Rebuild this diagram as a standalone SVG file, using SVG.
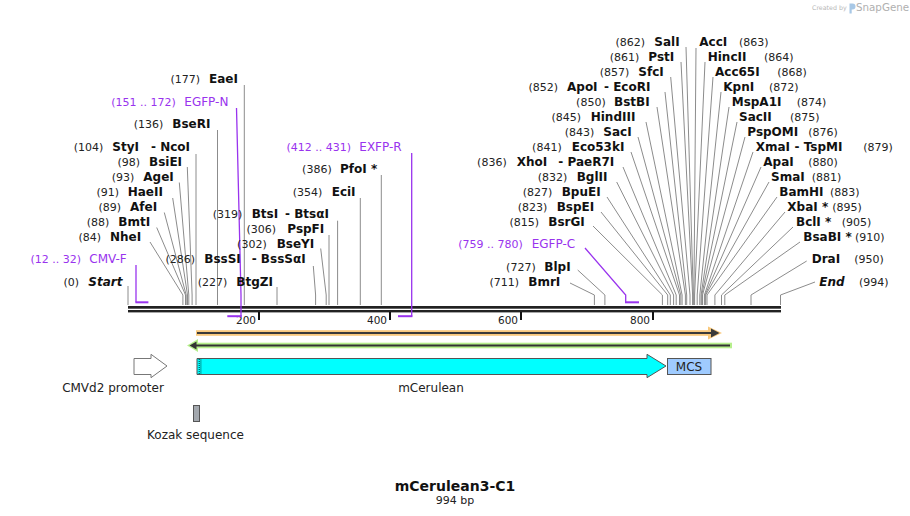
<svg xmlns="http://www.w3.org/2000/svg" width="910" height="516" viewBox="0 0 910 516">
<style>
text{font-family:"DejaVu Sans","Liberation Sans",sans-serif;}
.num{font-size:11px;fill:#222;}
.nm{font-size:12px;font-weight:bold;fill:#111;}
.it{font-style:italic;}
.pn{font-size:11px;fill:#9933ee;}
.pl{font-size:12px;fill:#9933ee;}
.tick{font-size:10.5px;fill:#222;}
.flab{font-size:12px;fill:#222;}
.c line,.c polyline{fill:none;stroke:#8c8c8c;stroke-width:1;}
.pr{fill:none;stroke:#9933ee;stroke-width:1.3;}
.prb{fill:#9933ee;}
</style>
<rect width="910" height="516" fill="#fff"/>

<g id="watermark">
<text x="812" y="10" style="font-size:6.3px;fill:#b8b8b8">Created by</text>
<path d="M849.5,3.5 h3 a3,3 0 0 1 0,6 h-0.8 v4 h-2.2 z" fill="#a8c8e6"/>
<text x="856" y="11" style="font-size:10.3px;fill:#b0b0b0">SnapGene</text>
</g>

<g id="backbone">
<rect x="128" y="306" width="653" height="2.7" fill="#222"/>
<rect x="128" y="310" width="653" height="2.4" fill="#222"/>
<rect x="258" y="312" width="2" height="8" fill="#111"/>
<rect x="389" y="312" width="2" height="8" fill="#111"/>
<rect x="520" y="312" width="2" height="8" fill="#111"/>
<rect x="652" y="312" width="2" height="8" fill="#111"/>
<text class="tick" x="256" y="323.5" text-anchor="end">200</text>
<text class="tick" x="387" y="323.5" text-anchor="end">400</text>
<text class="tick" x="518" y="323.5" text-anchor="end">600</text>
<text class="tick" x="650" y="323.5" text-anchor="end">800</text>
</g>

<g id="connectors" class="c">
<line x1="128" y1="286" x2="128" y2="305"/>
<polyline points="150,242 182.9,295 182.9,305"/>
<polyline points="156.7,227.5 185.5,295 185.5,305"/>
<polyline points="164.3,212.5 186.2,295 186.2,305"/>
<polyline points="172.7,198 187.5,295 187.5,305"/>
<polyline points="179.3,182.5 188.8,295 188.8,305"/>
<polyline points="187.3,167 192.1,295 192.1,305"/>
<line x1="196" y1="154" x2="196" y2="305"/>
<line x1="217.5" y1="130" x2="217.5" y2="305"/>
<line x1="244.3" y1="85" x2="244.3" y2="305"/>
<line x1="277" y1="287" x2="277" y2="305"/>
<polyline points="313.3,266 315.6,295 315.6,305"/>
<polyline points="320.7,248.5 326.2,295 326.2,305"/>
<line x1="329" y1="235" x2="329" y2="305"/>
<line x1="337.6" y1="220.7" x2="337.6" y2="305"/>
<line x1="360.3" y1="198" x2="360.3" y2="305"/>
<line x1="381.3" y1="175" x2="381.3" y2="305"/>

<polyline points="686,47 693.3,295 693.3,305"/>
<polyline points="681,62 692.6,295 692.6,305"/>
<polyline points="670.7,77 690,295 690,305"/>
<polyline points="665,92 686.7,295 686.7,305"/>
<polyline points="657,107 685.4,295 685.4,305"/>
<polyline points="646,122 682.1,295 682.1,305"/>
<polyline points="638,137 680.8,295 680.8,305"/>
<polyline points="631,152 679.5,295 679.5,305"/>
<polyline points="623,167 676.2,295 676.2,305"/>
<polyline points="616.7,182 673.6,295 673.6,305"/>
<polyline points="607,197 670.3,295 670.3,305"/>
<polyline points="601,212 667.7,295 667.7,305"/>
<polyline points="593,226 662.4,295 662.4,305"/>
<polyline points="577.7,270 604.9,295 604.9,305"/>
<polyline points="570,283 594.4,295 594.4,305"/>

<polyline points="696,48 693.9,295 693.9,305"/>
<polyline points="705,62 694.6,295 694.6,305"/>
<polyline points="713,77 697.2,295 697.2,305"/>
<polyline points="721,92 699.8,295 699.8,305"/>
<polyline points="729,107 701.1,295 701.1,305"/>
<polyline points="737,122 701.8,295 701.8,305"/>
<polyline points="745,137 702.5,295 702.5,305"/>
<polyline points="753,152 704.4,295 704.4,305"/>
<polyline points="761,167 705.1,295 705.1,305"/>
<polyline points="769,182 705.7,295 705.7,305"/>
<polyline points="777,197 707,295 707,305"/>
<polyline points="785,212 714.9,295 714.9,305"/>
<polyline points="793,227 721.5,295 721.5,305"/>
<polyline points="800,242 724.8,295 724.8,305"/>
<polyline points="806.7,261 751,295 751,305"/>
<polyline points="815,282 780.5,295 780.5,305"/>
</g>

<g id="primer-CMV-F">
<text class="pn" x="81" y="263" text-anchor="end">(12 .. 32)</text>
<text class="pl" x="89.3" y="263">CMV-F</text>
<polyline class="pr" points="136,265 136,302.3"/>
<rect class="prb" x="135.4" y="301.3" width="13" height="2"/>
</g>
<g id="primer-EGFP-N">
<text class="pn" x="175.7" y="106" text-anchor="end">(151 .. 172)</text>
<text class="pl" x="184.3" y="106">EGFP-N</text>
<polyline class="pr" points="236.5,108 241,295 241,316.5"/>
<rect class="prb" x="227.3" y="315.2" width="14.4" height="2"/>
</g>
<g id="primer-EXFP-R">
<text class="pn" x="351" y="151" text-anchor="end">(412 .. 431)</text>
<text class="pl" x="359.3" y="151">EXFP-R</text>
<polyline class="pr" points="411.7,153 411.7,316.5"/>
<rect class="prb" x="398" y="315.2" width="14.4" height="2"/>
</g>
<g id="primer-EGFP-C">
<text class="pn" x="522.7" y="247.5" text-anchor="end">(759 .. 780)</text>
<text class="pl" x="531.7" y="247.5">EGFP-C</text>
<polyline class="pr" points="585,248 625.7,295 625.7,302.3"/>
<rect class="prb" x="625" y="301.3" width="14" height="2"/>
</g>

<g id="site-Start"><text class="num" x="79" y="286" text-anchor="end">(0)</text><text class="nm it" x="88.3" y="286">Start</text></g>
<g id="site-NheI"><text class="num" x="101" y="241" text-anchor="end">(84)</text><text class="nm" x="110" y="241">NheI</text></g>
<g id="site-BmtI"><text class="num" x="109.3" y="226" text-anchor="end">(88)</text><text class="nm" x="118.3" y="226">BmtI</text></g>
<g id="site-AfeI"><text class="num" x="121" y="211" text-anchor="end">(89)</text><text class="nm" x="130" y="211">AfeI</text></g>
<g id="site-HaeII"><text class="num" x="119" y="196" text-anchor="end">(91)</text><text class="nm" x="127.7" y="196">HaeII</text></g>
<g id="site-AgeI"><text class="num" x="134.3" y="181" text-anchor="end">(93)</text><text class="nm" x="143.3" y="181">AgeI</text></g>
<g id="site-BsiEI"><text class="num" x="140" y="166" text-anchor="end">(98)</text><text class="nm" x="149" y="166">BsiEI</text></g>
<g id="site-StyI-NcoI"><text class="num" x="103.3" y="151" text-anchor="end">(104)</text><text class="nm" x="112.3" y="151">StyI</text><text class="nm" x="151" y="151">- NcoI</text></g>
<g id="site-BseRI"><text class="num" x="163.3" y="128" text-anchor="end">(136)</text><text class="nm" x="172.3" y="128">BseRI</text></g>
<g id="site-EaeI"><text class="num" x="200" y="83" text-anchor="end">(177)</text><text class="nm" x="209" y="83">EaeI</text></g>
<g id="site-BtgZI"><text class="num" x="227.3" y="286" text-anchor="end">(227)</text><text class="nm" x="236.3" y="286">BtgZI</text></g>
<g id="site-BssSI"><text class="num" x="195" y="263" text-anchor="end">(286)</text><text class="nm" x="204.3" y="263">BssSI</text><text class="nm" x="251.7" y="263">- BssSαI</text></g>
<g id="site-BseYI"><text class="num" x="266.7" y="248" text-anchor="end">(302)</text><text class="nm" x="276.7" y="248">BseYI</text></g>
<g id="site-PspFI"><text class="num" x="276" y="233" text-anchor="end">(306)</text><text class="nm" x="287.3" y="233">PspFI</text></g>
<g id="site-BtsI"><text class="num" x="242.3" y="218" text-anchor="end">(319)</text><text class="nm" x="251.7" y="218">BtsI</text><text class="nm" x="285" y="218">- BtsαI</text></g>
<g id="site-EciI"><text class="num" x="322.3" y="196" text-anchor="end">(354)</text><text class="nm" x="331.7" y="196">EciI</text></g>
<g id="site-PfoI"><text class="num" x="331.7" y="173" text-anchor="end">(386)</text><text class="nm" x="340" y="173">PfoI *</text></g>

<g id="site-BmrI"><text class="num" x="519" y="286" text-anchor="end">(711)</text><text class="nm" x="528.3" y="286">BmrI</text></g>
<g id="site-BlpI"><text class="num" x="535.7" y="271" text-anchor="end">(727)</text><text class="nm" x="544.3" y="271">BlpI</text></g>
<g id="site-BsrGI"><text class="num" x="539" y="226" text-anchor="end">(815)</text><text class="nm" x="548.3" y="226">BsrGI</text></g>
<g id="site-BspEI"><text class="num" x="547.3" y="211" text-anchor="end">(823)</text><text class="nm" x="556.7" y="211">BspEI</text></g>
<g id="site-BpuEI"><text class="num" x="552.3" y="196" text-anchor="end">(827)</text><text class="nm" x="561.7" y="196">BpuEI</text></g>
<g id="site-BglII"><text class="num" x="567.3" y="181" text-anchor="end">(832)</text><text class="nm" x="576.7" y="181">BglII</text></g>
<g id="site-XhoI"><text class="num" x="506.7" y="166" text-anchor="end">(836)</text><text class="nm" x="516.7" y="166">XhoI</text><text class="nm" x="558.3" y="166">- PaeR7I</text></g>
<g id="site-Eco53kI"><text class="num" x="561.7" y="151" text-anchor="end">(841)</text><text class="nm" x="571.7" y="151">Eco53kI</text></g>
<g id="site-SacI"><text class="num" x="594.3" y="136" text-anchor="end">(843)</text><text class="nm" x="603.3" y="136">SacI</text></g>
<g id="site-HindIII"><text class="num" x="581" y="121" text-anchor="end">(845)</text><text class="nm" x="590.7" y="121">HindIII</text></g>
<g id="site-BstBI"><text class="num" x="605.7" y="106" text-anchor="end">(850)</text><text class="nm" x="614" y="106">BstBI</text></g>
<g id="site-ApoI"><text class="num" x="558" y="91" text-anchor="end">(852)</text><text class="nm" x="567" y="91">ApoI</text><text class="nm" x="604" y="91">- EcoRI</text></g>
<g id="site-SfcI"><text class="num" x="629.3" y="76" text-anchor="end">(857)</text><text class="nm" x="638.3" y="76">SfcI</text></g>
<g id="site-PstI"><text class="num" x="639.3" y="61" text-anchor="end">(861)</text><text class="nm" x="648.3" y="61">PstI</text></g>
<g id="site-SalI"><text class="num" x="645" y="46" text-anchor="end">(862)</text><text class="nm" x="654.3" y="46">SalI</text></g>

<g id="site-AccI"><text class="nm" x="699.3" y="46">AccI</text><text class="num" x="739" y="46">(863)</text></g>
<g id="site-HincII"><text class="nm" x="707.7" y="61">HincII</text><text class="num" x="764" y="61">(864)</text></g>
<g id="site-Acc65I"><text class="nm" x="715" y="76">Acc65I</text><text class="num" x="777.3" y="76">(868)</text></g>
<g id="site-KpnI"><text class="nm" x="723.3" y="91">KpnI</text><text class="num" x="769" y="91">(872)</text></g>
<g id="site-MspA1I"><text class="nm" x="731.7" y="106">MspA1I</text><text class="num" x="796.7" y="106">(874)</text></g>
<g id="site-SacII"><text class="nm" x="739" y="121">SacII</text><text class="num" x="790" y="121">(875)</text></g>
<g id="site-PspOMI"><text class="nm" x="747.3" y="136">PspOMI</text><text class="num" x="808.3" y="136">(876)</text></g>
<g id="site-XmaI"><text class="nm" x="755.7" y="151">XmaI</text><text class="nm" x="794.5" y="151">- TspMI</text><text class="num" x="863.3" y="151">(879)</text></g>
<g id="site-ApaI"><text class="nm" x="763.3" y="166">ApaI</text><text class="num" x="808.3" y="166">(880)</text></g>
<g id="site-SmaI"><text class="nm" x="771" y="181">SmaI</text><text class="num" x="811.7" y="181">(881)</text></g>
<g id="site-BamHI"><text class="nm" x="779.3" y="196">BamHI</text><text class="num" x="830" y="196">(883)</text></g>
<g id="site-XbaI"><text class="nm" x="787.3" y="211">XbaI *</text><text class="num" x="832.3" y="211">(895)</text></g>
<g id="site-BclI"><text class="nm" x="796" y="226">BclI *</text><text class="num" x="841.7" y="226">(905)</text></g>
<g id="site-BsaBI"><text class="nm" x="803.3" y="241">BsaBI *</text><text class="num" x="855" y="241">(910)</text></g>
<g id="site-DraI"><text class="nm" x="811.7" y="263">DraI</text><text class="num" x="854.3" y="263">(950)</text></g>
<g id="site-End"><text class="nm it" x="819.3" y="286">End</text><text class="num" x="859" y="286">(994)</text></g>

<g id="orf-forward">
<rect x="196" y="330.2" width="516" height="5.6" fill="#f9c97d"/>
<polygon points="708,326.5 722,333 708,339.5" fill="#f9c97d"/>
<line x1="197" y1="333" x2="712" y2="333" stroke="#3a3a3a" stroke-width="2"/>
<polygon points="711,328.5 719.5,333 711,337.5" fill="#3a3a3a"/>
</g>
<g id="orf-reverse">
<rect x="194" y="342.7" width="538" height="5.6" fill="#b6ef8c"/>
<polygon points="187,345.5 198,339 198,352" fill="#b6ef8c"/>
<line x1="195" y1="345.5" x2="730" y2="345.5" stroke="#333" stroke-width="2"/>
<polygon points="189.5,345.5 196.5,341.5 196.5,349.5" fill="#333"/>
</g>

<g id="feature-CMVd2-promoter">
<path d="M134,358.5 H151 V354.3 L167,366 L151,377.7 V374.5 H134 Z" fill="#fff" stroke="#777" stroke-width="1"/>
<text class="flab" x="113" y="392" text-anchor="middle">CMVd2 promoter</text>
</g>
<g id="feature-mCerulean">
<path d="M197,358.5 H647 V354.3 L666,366 L647,377.7 V374.5 H197 Z" fill="#00ffff" stroke="#555" stroke-width="1"/>
<line x1="199.2" y1="359" x2="199.2" y2="374" stroke="#000" stroke-width="0.8" stroke-dasharray="1 1"/>
<line x1="200.9" y1="359.5" x2="200.9" y2="374" stroke="#000" stroke-width="0.8" stroke-dasharray="1 1"/>
<text class="flab" x="431" y="392" text-anchor="middle">mCerulean</text>
</g>
<g id="feature-MCS">
<rect x="667.5" y="358.5" width="43.5" height="16" fill="#9fcbff" stroke="#555" stroke-width="1"/>
<text class="flab" x="689" y="371" text-anchor="middle">MCS</text>
</g>
<g id="feature-Kozak">
<rect x="193.5" y="405.5" width="6" height="16" fill="#a3a8ae" stroke="#555" stroke-width="1"/>
<text class="flab" x="195.5" y="438.5" text-anchor="middle">Kozak sequence</text>
</g>

<g id="title">
<text x="455" y="491" text-anchor="middle" style="font-size:14px;font-weight:bold;fill:#111">mCerulean3-C1</text>
<text x="455" y="503.5" text-anchor="middle" style="font-size:11px;fill:#222">994 bp</text>
</g>
</svg>
